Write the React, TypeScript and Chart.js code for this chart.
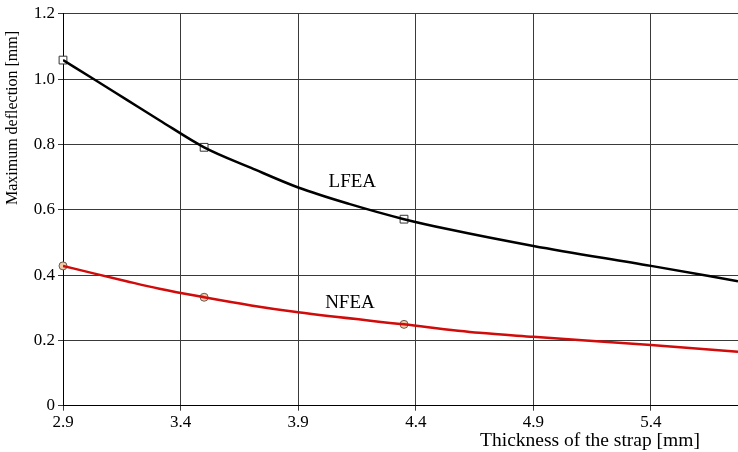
import React, { useEffect, useRef } from "react";
import { Chart, registerables } from "chart.js";

Chart.register(...registerables);

const xTicks = [2.9, 3.4, 3.9, 4.4, 4.9, 5.4];
const yTicks = [0, 0.2, 0.4, 0.6, 0.8, 1.0, 1.2];

const lfeaX = [2.9, 3.03, 3.17, 3.31, 3.5, 3.7, 3.9, 4.12, 4.35, 4.54, 4.9, 5.4, 5.77];
const lfeaY = [1.058, 1.0, 0.937, 0.874, 0.791, 0.728, 0.668, 0.617, 0.571, 0.54, 0.489, 0.428, 0.381];

const nfeaX = [2.9, 3.03, 3.17, 3.31, 3.5, 3.7, 3.9, 4.35, 4.67, 4.9, 5.4, 5.77];
const nfeaY = [0.428, 0.405, 0.381, 0.358, 0.332, 0.307, 0.286, 0.249, 0.223, 0.211, 0.186, 0.165];

const lfeaMarkX = [2.9, 3.5, 4.35];
const lfeaMarkY = [1.058, 0.791, 0.571];
const nfeaMarkX = [2.9, 3.5, 4.35];
const nfeaMarkY = [0.428, 0.332, 0.249];

const seriesLabels = ["LFEA", "NFEA"];
const xTitle = "Thickness of the strap [mm]";
const yTitle = "Maximum deflection [mm]";

const FONT = "'Liberation Serif', 'Times New Roman', serif";

export default function App() {
  const ref = useRef<HTMLCanvasElement | null>(null);

  useEffect(() => {
    if (!ref.current) return;
    const pts = (xs: number[], ys: number[]) => xs.map((x, i) => ({ x, y: ys[i] }));

    const textPlugin = {
      id: "textPlugin",
      afterDraw(chart: any) {
        const ctx = chart.ctx;
        const xs = chart.scales.x;
        const ys = chart.scales.y;
        ctx.save();
        ctx.fillStyle = "#000";
        ctx.textAlign = "center";
        ctx.textBaseline = "middle";
        ctx.font = `19px ${FONT}`;
        ctx.fillText(seriesLabels[0], xs.getPixelForValue(4.13), ys.getPixelForValue(0.685));
        ctx.fillText(seriesLabels[1], xs.getPixelForValue(4.12), ys.getPixelForValue(0.314));
        ctx.font = `19.5px ${FONT}`;
        ctx.fillText(xTitle, 590, 441);
        ctx.translate(13, 118);
        ctx.rotate(-Math.PI / 2);
        ctx.font = `16px ${FONT}`;
        ctx.fillText(yTitle, 0, 0);
        ctx.restore();
      },
    };

    const chart = new Chart(ref.current, {
      type: "line",
      data: {
        datasets: [
          {
            label: "LFEA",
            data: pts(lfeaX, lfeaY),
            borderColor: "#000",
            borderWidth: 2.5,
            pointRadius: 0,
            cubicInterpolationMode: "monotone",
            fill: false,
          },
          {
            label: "NFEA",
            data: pts(nfeaX, nfeaY),
            borderColor: "#d10a0a",
            borderWidth: 2.5,
            pointRadius: 0,
            cubicInterpolationMode: "monotone",
            fill: false,
          },
          {
            label: "LFEA markers",
            data: pts(lfeaMarkX, lfeaMarkY),
            showLine: false,
            pointStyle: "rect",
            pointRadius: 5.5,
            pointBackgroundColor: "#fff",
            pointBorderColor: "#333",
            pointBorderWidth: 1,
            clip: false as any,
          },
          {
            label: "NFEA markers",
            data: pts(nfeaMarkX, nfeaMarkY),
            showLine: false,
            pointStyle: "circle",
            pointRadius: 4,
            pointBackgroundColor: "#f3c9a6",
            pointBorderColor: "#6a5a50",
            pointBorderWidth: 1,
            clip: false as any,
          },
        ],
      },
      options: {
        responsive: false,
        animation: false,
        layout: { autoPadding: false, padding: { top: 13.7, right: 0, left: 0, bottom: 0 } },
        plugins: {
          legend: { display: false },
          tooltip: { enabled: false },
        },
        scales: {
          x: {
            type: "linear",
            min: 2.9,
            max: 5.77,
            afterBuildTicks: (s: any) => {
              s.ticks = xTicks.map((v) => ({ value: v }));
            },
            afterFit: (s: any) => {
              s.height = 46.3;
              s.paddingLeft = 0;
              s.paddingRight = 0;
            },
            ticks: {
              color: "#000",
              font: { family: FONT, size: 17 },
              padding: 2,
              maxRotation: 0,
              callback: (v: any) => Number(v).toFixed(1),
            },
            grid: { color: "#3a3a3a", lineWidth: 1, tickLength: 5 },
            border: { color: "#000", width: 1 },
          },
          y: {
            type: "linear",
            min: 0,
            max: 1.2,
            afterBuildTicks: (s: any) => {
              s.ticks = yTicks.map((v) => ({ value: v }));
            },
            afterFit: (s: any) => {
              s.width = 63;
              s.paddingTop = 0;
              s.paddingBottom = 0;
            },
            ticks: {
              color: "#000",
              font: { family: FONT, size: 17 },
              padding: 3,
              callback: (v: any) => (Number(v) === 0 ? "0" : Number(v).toFixed(1)),
            },
            grid: { color: "#3a3a3a", lineWidth: 1, tickLength: 5 },
            border: { color: "#000", width: 1 },
          },
        },
      },
      plugins: [textPlugin],
    } as any);

    return () => chart.destroy();
  }, []);

  return (
    <div style={{ position: "fixed", left: 0, top: 0, width: 738, height: 452, background: "#fff" }}>
      <canvas ref={ref} width={738} height={452} style={{ width: 738, height: 452, display: "block" }} />
    </div>
  );
}
